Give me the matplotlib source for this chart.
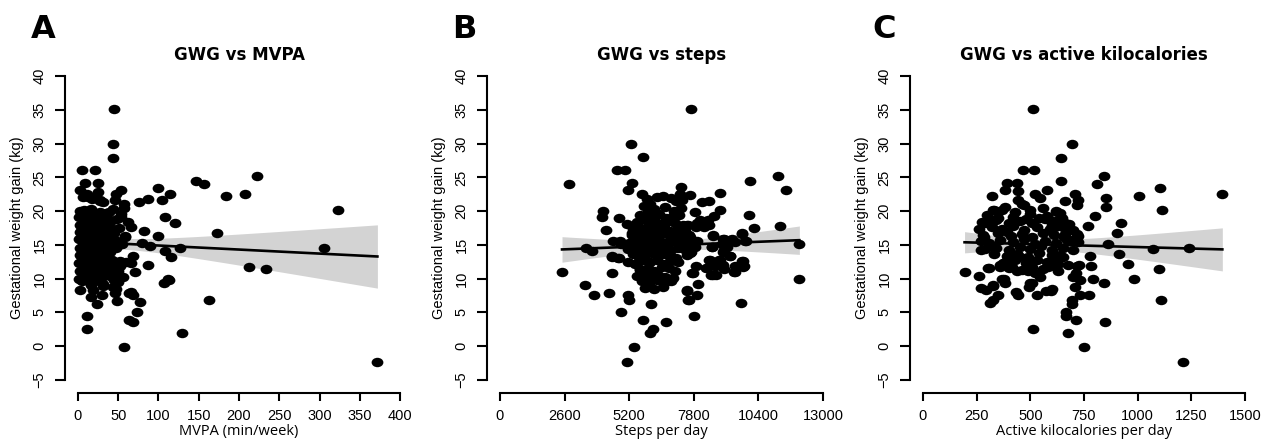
import numpy as np
import matplotlib
matplotlib.use("Agg")
import matplotlib.pyplot as plt
from matplotlib.path import Path
from matplotlib.transforms import Affine2D

# ---------------- data ----------------
panel_letters = ["A", "B", "C"]
titles = ["GWG vs MVPA", "GWG vs steps", "GWG vs active kilocalories"]
xlabels = ["MVPA (min/week)", "Steps per day", "Active kilocalories per day"]
ylabel = "Gestational weight gain (kg)"
yticks = [-5, 0, 5, 10, 15, 20, 25, 30, 35, 40]
xticks_a = [0, 50, 100, 150, 200, 250, 300, 350, 400]
xticks_b = [0, 2600, 5200, 7800, 10400, 13000]
xticks_c = [0, 250, 500, 750, 1000, 1250, 1500]

# Panel A: (MVPA min/week, GWG kg)
mvpa_points = [
    (44.8, 35.2), (44, 29.9), (43.5, 27.9), (56.8, -0.1), (371.8, -2.4), (323, 20.2),
    (305.5, 14.6), (233, 11.4), (213, 11.7), (222, 25.2), (207, 22.6), (183.6, 22.2),
    (173, 16.8), (163, 6.9), (146, 24.5), (156, 24.0), (129, 2.0), (127, 14.5),
    (120, 18.3), (114, 22.5), (104, 21.6), (100, 23.5), (108, 19.2), (99, 16.3),
    (108.6, 14.1), (115, 13.2), (111.5, 10.0), (107, 9.4), (113.6, 9.8), (86.6, 12.0),
    (89, 14.8), (87.5, 21.8), (81.6, 17.1), (76, 21.3), (79.6, 15.3), (77, 6.5),
    (73, 5.0), (71, 11.0), (69, 7.5), (65.5, 8.0), (69, 3.6), (63, 3.8),
    (62.6, 18.4), (66, 17.7), (59, 16.1), (54, 15.1), (68, 13.3), (66, 12.3),
    (52, 11.8), (48, 6.7), (47.7, 8.4), (54, 23.1), (57, 21.1), (53.5, 19.2),
    (47.6, 22.6), (45.5, 21.6), (11.2, 2.6), (11.6, 4.4), (2.9, 8.3), (23.6, 6.2),
    (29.4, 7.5), (31, 8.9), (18.6, 8.3), (16.5, 7.3), (5.4, 26.1), (21.6, 26.1),
    (8.3, 24.2), (2, 23.1), (25.3, 24.1), (24.4, 22.9), (31, 21.3), (64, 7.8),
    (16.6, 9.0), (40.6, 12.7), (45.6, 12.2), (49.3, 11.8), (47.7, 10.3), (49.7, 9.5),
    (43.5, 8.8), (45.6, 7.8), (34.4, 15.2), (35, 19.7), (30, 19.2), (39.4, 18.7),
    (27, 21.6), (18.7, 22.1), (11.2, 22.6), (6.2, 22.1), (10.4, 19.7),
    (1, 10.0), (2, 11.2), (1, 12.3), (3, 13.5), (2, 14.6), (1, 15.8), (3, 16.9),
    (2, 18.0), (1, 19.1), (3, 20.0), (5, 9.6), (6, 10.8), (7, 12.0), (5, 13.1),
    (8, 14.2), (6, 15.3), (7, 16.4), (5, 17.5), (8, 18.6), (6, 19.7), (7, 20.1),
    (10, 9.8), (11, 11.0), (12, 12.1), (10, 13.3), (13, 14.5), (11, 15.6), (12, 16.7),
    (10, 17.8), (13, 18.9), (11, 20.0), (12, 22.1), (15, 10.3), (16, 11.5), (17, 12.6),
    (15, 13.8), (18, 14.9), (16, 16.0), (17, 17.1), (15, 18.2), (18, 19.3), (16, 20.3),
    (18, 21.8), (20, 10.6), (21, 11.8), (22, 13.0), (20, 14.1), (23, 15.2), (21, 16.3),
    (22, 17.4), (20, 18.5), (23, 19.6), (21, 9.6), (25, 10.9), (26, 12.1), (27, 13.3),
    (25, 14.4), (28, 15.5), (26, 16.6), (27, 17.7), (25, 18.8), (28, 19.9), (27, 21.5),
    (30, 10.2), (31, 11.4), (32, 12.5), (30, 13.7), (33, 14.8), (31, 15.9), (32, 17.0),
    (30, 18.1), (33, 19.2), (31, 9.2), (35, 10.8), (36, 12.0), (37, 13.1), (35, 14.2),
    (38, 15.4), (36, 16.5), (37, 17.6), (35, 18.7), (38, 19.8), (40, 10.4), (41, 11.6),
    (42, 12.8), (40, 14.0), (43, 15.1), (41, 16.2), (42, 17.3), (40, 18.4), (45, 9.8),
    (46, 12.4), (47, 14.6), (45, 16.8), (48, 18.9), (44, 20.3), (50, 11.2), (52, 12.6),
    (49, 15.6), (51, 17.5), (55, 15.2), (58, 16.3), (56, 10.3), (60, 12.5), (53, 19.6),
    (57, 20.5),
]

# Panel B: (steps per day, GWG kg)
steps_points = [
    (7695, 35.2), (5265, 29.9), (5775, 28.0), (4727, 26.1), (5036, 26.1), (2767, 24.0),
    (5332, 24.2), (5170, 23.1), (5708, 22.5), (2498, 11.0), (3438, 9.0), (3774, 7.5),
    (3452, 14.5), (3694, 14.1), (4136, 20.0), (4096, 19.2), (4257, 17.2), (4781, 19.0),
    (4378, 7.8), (4499, 10.9), (4512, 13.2), (4794, 13.1), (4539, 15.6), (4835, 15.6),
    (4862, 5.1), (5170, 7.5), (5197, 6.8), (5130, -2.4), (5400, -0.1), (5775, 3.8),
    (6043, 2.0), (6177, 2.6), (6097, 6.2), (6675, 3.5), (7816, 4.4), (7588, 6.9),
    (7910, 7.5), (7521, 8.2), (7977, 9.2), (7736, 10.9), (7897, 11.9), (9697, 6.4),
    (12046, 10.0), (12019, 15.2), (11254, 17.8), (11187, 25.2), (11496, 23.1), (10046, 24.4),
    (10019, 19.4), (10207, 17.5), (9737, 16.7), (9871, 15.6), (9777, 12.6), (9804, 11.8),
    (9468, 11.8), (9428, 11.0), (9267, 13.3), (9334, 15.8), (9025, 15.8), (8931, 15.1),
    (8998, 14.2), (8864, 22.7), (8837, 20.1), (8595, 19.3), (8555, 16.4), (8528, 14.7),
    (8407, 21.5), (8125, 21.4), (8354, 18.7), (8192, 17.7), (8407, 12.8), (8300, 11.5),
    (8488, 10.6), (8703, 10.6), (8662, 11.8), (8864, 12.1), (9025, 11.4), (8796, 12.8),
    (7628, 22.4), (7266, 23.6), (7252, 22.6), (7333, 21.6), (7118, 19.9), (7830, 19.8),
    (7870, 17.7), (7548, 18.0), (7910, 15.5), (7681, 13.9), (7736, 14.7), (8048, 18.7),
    (8249, 18.4), (8423, 17.9), (8317, 11.6), (8451, 12.8), (8652, 11.8), (8584, 10.5),
    (8853, 12.7), (8961, 12.0), (9256, 13.3), (9457, 11.0), (9725, 12.6), (9792, 11.7),
    (8584, 16.3), (8986, 15.9), (9256, 15.7), (9457, 15.4), (9725, 16.6), (9899, 15.5),
    (9122, 14.7), (8986, 14.0), (8518, 14.7), (7646, 13.8), (7512, 13.5), (7847, 14.7),
    (7378, 16.2), (7646, 16.2), (7512, 17.9), (7915, 18.2), (7512, 8.3), (7579, 6.9),
    (7780, 10.9), (5103, 18.1), (5332, 16.7), (5641, 11.4), (5433, 12.2), (5164, 12.5),
    (4762, 13.1), (4494, 13.3), (4870, 15.1),
    (5900, 21.8), (6300, 22.1), (6550, 22.2), (6900, 21.9), (7100, 21.5),
    (5800, 20.8), (6050, 21.0), (6200, 20.3), (6650, 20.6), (7000, 20.0), (7300, 20.4),
    (5650, 19.4), (5950, 19.8), (6150, 19.2), (6400, 19.6), (6700, 19.0), (6950, 19.3),
    (7200, 19.5), (5500, 18.4), (5750, 18.8), (6000, 18.3), (6250, 18.6), (6500, 18.1),
    (6800, 18.5), (7050, 18.2), (7350, 18.0), (5350, 17.3), (5600, 17.7), (5850, 17.4),
    (6100, 17.8), (6350, 17.2), (6600, 17.6), (6850, 17.1), (7150, 17.5), (7450, 17.0),
    (5300, 16.4), (5550, 16.7), (5800, 16.2), (6050, 16.6), (6300, 16.3), (6550, 16.8),
    (6800, 16.4), (7050, 16.6), (7300, 16.2), (7600, 16.5), (5200, 15.3), (5450, 15.7),
    (5700, 15.4), (5950, 15.8), (6200, 15.2), (6450, 15.6), (6700, 15.3), (6950, 15.7),
    (7200, 15.4), (7500, 15.6), (5150, 14.4), (5400, 14.7), (5650, 14.2), (5900, 14.6),
    (6150, 14.8), (6400, 14.3), (6650, 14.5), (6900, 14.2), (7150, 14.6), (7400, 14.4),
    (5350, 13.6), (5600, 13.2), (5850, 13.5), (6100, 13.8), (6350, 13.3), (6600, 13.7),
    (6850, 13.4), (7100, 13.1), (5500, 12.3), (5800, 12.7), (6050, 12.4), (6300, 12.8),
    (6550, 12.2), (6850, 12.6), (7150, 12.4), (5650, 11.3), (5950, 11.6), (6200, 11.2),
    (6500, 11.7), (6800, 11.5), (7050, 11.2), (5500, 10.4), (5800, 10.7), (6050, 10.2),
    (6350, 10.6), (6650, 10.3), (6950, 10.1), (5700, 9.6), (6000, 9.3), (6300, 9.8),
    (6600, 9.4), (6900, 9.7), (5850, 8.6), (6200, 8.4), (6550, 8.7),
]

# Panel C: (active kilocalories per day, GWG kg)
kcal_points = [
    (512, 35.2), (696, 29.9), (642, 27.9), (468, 26.1), (515, 26.1), (642, 24.4),
    (841, 25.2), (810, 24.0), (391, 24.2), (437, 24.1), (445, 23.0), (383, 23.1),
    (320, 22.2), (1394, 22.6), (1104, 23.5), (1008, 22.2), (1115, 20.2), (851, 21.9),
    (851, 20.6), (802, 19.3), (768, 17.8), (920, 18.3), (903, 16.8), (864, 15.1),
    (915, 13.7), (953, 12.1), (985, 10.0), (1073, 14.4), (1241, 14.6), (1101, 11.4),
    (1108, 6.9), (1213, -2.4), (752, -0.1), (848, 3.5), (841, 9.4), (790, 9.9),
    (779, 13.3), (782, 11.8), (772, 7.5), (732, 7.5), (728, 12.0), (732, 9.8),
    (712, 10.8), (712, 3.8), (675, 2.0), (667, 4.4), (667, 5.1), (696, 6.9),
    (696, 6.3), (512, 2.6), (531, 7.5), (597, 8.2), (571, 8.2), (492, 8.7),
    (500, 9.4), (327, 6.9), (351, 7.5), (312, 6.4), (326, 8.9), (271, 8.6),
    (293, 8.3), (262, 10.4), (194, 11.0), (310, 11.5), (378, 10.0), (384, 9.4),
    (433, 8.0), (445, 7.6), (522, 22.6), (545, 21.9), (576, 23.1), (708, 22.6),
    (723, 21.6), (661, 21.5), (716, 20.9), (444, 21.6), (460, 21.1), (498, 20.1),
    (327, 20.1), (367, 20.1), (351, 19.0), (312, 18.9), (289, 18.2), (623, 19.9),
    (646, 19.0), (592, 18.7), (615, 17.7), (661, 18.2), (685, 17.2), (692, 15.7),
    (716, 16.6), (304, 11.5), (325, 9.0), (367, 10.0),
    (359, 11.7), (413, 11.7), (436, 11.2), (390, 12.5), (444, 13.5), (475, 13.0),
    (498, 12.2), (491, 11.2), (522, 10.8), (545, 10.3), (506, 9.3),
    (599, 8.4), (584, 11.7), (615, 12.5), (638, 13.5),
    (630, 11.2), (677, 12.0), (716, 11.8), (700, 10.3), (708, 8.8),
    (330, 20.2), (380, 20.6), (470, 20.9), (560, 20.4), (620, 20.0),
    (300, 19.4), (350, 19.8), (420, 19.2), (500, 19.6), (580, 19.3), (640, 19.7),
    (290, 18.4), (340, 18.7), (400, 18.2), (450, 18.6), (510, 18.3), (570, 18.8),
    (620, 18.5), (680, 18.1), (320, 17.6), (370, 17.3), (420, 17.8), (470, 17.2),
    (530, 17.6), (590, 17.4), (650, 17.7), (700, 17.2), (280, 16.4), (350, 16.8),
    (410, 16.3), (460, 16.6), (510, 16.2), (560, 16.7), (610, 16.4), (660, 16.6),
    (720, 16.3), (270, 15.5), (310, 15.3), (360, 15.7), (420, 15.4), (470, 15.8),
    (520, 15.2), (570, 15.6), (620, 15.3), (670, 15.7), (720, 15.4), (290, 14.4),
    (340, 14.6), (400, 14.2), (450, 14.7), (500, 14.4), (550, 14.8), (600, 14.3),
    (650, 14.6), (700, 14.2), (330, 13.6), (390, 13.3), (440, 13.7), (490, 13.2),
    (540, 13.8), (600, 13.5), (650, 13.2), (380, 12.4), (430, 12.7), (480, 12.3),
    (530, 12.8), (580, 12.5), (630, 12.2), (400, 11.6), (460, 11.3), (510, 11.7),
    (560, 11.4), (610, 11.8), (275, 18.4), (259, 17.4), (285, 16.2), (271, 14.2),
    (337, 14.5), (360, 12.0), (372, 12.3), (430, 19.9), (540, 19.0), (600, 17.9),
    (480, 18.9), (390, 16.9), (655, 16.1),
]

# ---------------- layout ----------------
W, H = 1271, 445
fig = plt.figure(figsize=(W / 100, H / 100), dpi=100)
fig.patch.set_facecolor("white")

tick_font = "Liberation Sans"
ellipse = Path.unit_circle().transformed(Affine2D().scale(1.0, 0.8))

panels = [
    (mvpa_points, xticks_a, (65, 413), (31, 38)),
    (steps_points, xticks_b, (487, 836), (452, 38)),
    (kcal_points, xticks_c, (910, 1258), (872, 38)),
]

top_px, bot_px = 64, 392
for i, (pts, xt, (lpx, rpx), (lx, ly)) in enumerate(panels):
    ax = fig.add_axes([lpx / W, 1 - bot_px / H, (rpx - lpx) / W, (bot_px - top_px) / H])
    x = np.array([p[0] for p in pts], dtype=float)
    y = np.array([p[1] for p in pts], dtype=float)

    span = xt[-1] - xt[0]
    ax.set_xlim(xt[0] - 0.04 * span, xt[-1] + 0.04 * span)
    ax.set_ylim(-5 - 0.04 * 45, 40 + 0.04 * 45)

    # least-squares fit with 95% confidence band
    n = len(x)
    xbar, ybar = x.mean(), y.mean()
    sxx = np.sum((x - xbar) ** 2)
    b1 = np.sum((x - xbar) * (y - ybar)) / sxx
    b0 = ybar - b1 * xbar
    s = np.sqrt(np.sum((y - b0 - b1 * x) ** 2) / (n - 2))
    xs = np.linspace(x.min(), x.max(), 200)
    fit = b0 + b1 * xs
    se = s * np.sqrt(1 / n + (xs - xbar) ** 2 / sxx)
    ax.fill_between(xs, fit - 1.97 * se, fit + 1.97 * se, color="#d3d3d3",
                    linewidth=0, zorder=1)
    ax.scatter(x, y, s=72, marker=ellipse, color="black", linewidths=0, zorder=2)
    ax.plot(xs, fit, color="black", lw=1.9, zorder=3)

    for side in ["top", "right"]:
        ax.spines[side].set_visible(False)
    ax.spines["left"].set_bounds(-5, 40)
    ax.spines["bottom"].set_bounds(xt[0], xt[-1])
    ax.spines["left"].set_linewidth(1.5)
    ax.spines["bottom"].set_linewidth(1.5)
    ax.spines["bottom"].set_position(("outward", 1))

    ax.set_yticks(yticks)
    ax.set_yticklabels([str(v).replace("-", "\u2212") for v in yticks], rotation=90,
                       va="center", fontsize=10.5, family=tick_font)
    ax.set_xticks(xt)
    ax.set_xticklabels([str(v) for v in xt], fontsize=10.5, family=tick_font)
    ax.tick_params(axis="y", length=7.2, width=1.5, pad=6)
    ax.tick_params(axis="x", length=6, width=1.5, pad=5)

    ax.set_xlabel(xlabels[i], fontsize=10.5, family="Open Sans", labelpad=1)
    ax.set_ylabel(ylabel, fontsize=10.5, family=tick_font, labelpad=6)
    ax.set_title(titles[i], fontsize=12, fontweight="bold", family="DejaVu Sans", pad=2.5)

    fig.text(lx / W, 1 - ly / H, panel_letters[i], fontsize=23, fontweight="bold",
             family="DejaVu Sans", va="baseline", ha="left")

fig.savefig("out.png", dpi=100, facecolor="white")
